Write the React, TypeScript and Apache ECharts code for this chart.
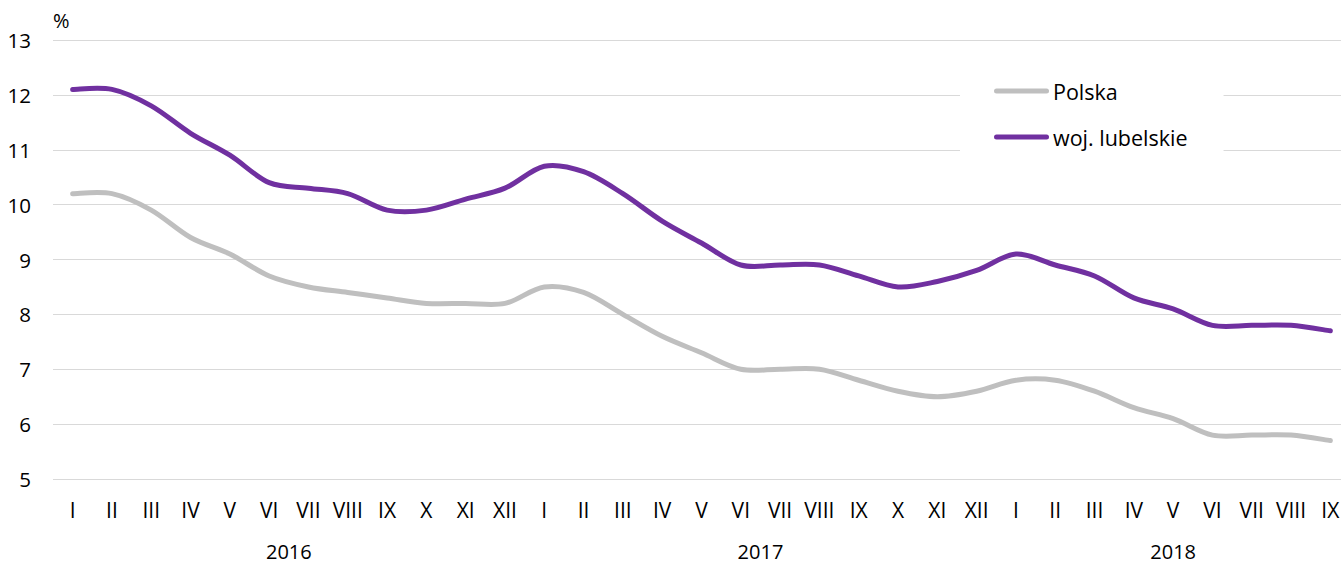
import React, { useEffect, useRef } from "react";
import * as echarts from "echarts";

const months = [
  "I", "II", "III", "IV", "V", "VI", "VII", "VIII", "IX", "X", "XI", "XII",
  "I", "II", "III", "IV", "V", "VI", "VII", "VIII", "IX", "X", "XI", "XII",
  "I", "II", "III", "IV", "V", "VI", "VII", "VIII", "IX",
];
const years = ["2016", "2017", "2018"];
// index pairs between which each year label sits (centre of that year's months)
const yearCentres = [[5, 6], [17, 18], [28, 28]];

const polska = [
  10.2, 10.2, 9.9, 9.4, 9.1, 8.7, 8.5, 8.4, 8.3, 8.2, 8.2, 8.2,
  8.5, 8.4, 8.0, 7.6, 7.3, 7.0, 7.0, 7.0, 6.8, 6.6, 6.5, 6.6,
  6.8, 6.8, 6.6, 6.3, 6.1, 5.8, 5.8, 5.8, 5.7,
];
const lubelskie = [
  12.1, 12.1, 11.8, 11.3, 10.9, 10.4, 10.3, 10.2, 9.9, 9.9, 10.1, 10.3,
  10.7, 10.6, 10.2, 9.7, 9.3, 8.9, 8.9, 8.9, 8.7, 8.5, 8.6, 8.8,
  9.1, 8.9, 8.7, 8.3, 8.1, 7.8, 7.8, 7.8, 7.7,
];

const FONT = "'Open Sans', 'Noto Sans', sans-serif";
const LINE_ICON = "path://M2.5,0 L52.5,0 A2.5,2.5 0 0 1 52.5,5 L2.5,5 A2.5,2.5 0 0 1 2.5,0 Z";

// Smooth line (Catmull-Rom style Bezier, like spreadsheet smoothed lines) drawn through axis coords
function smoothSeries(name: string, values: number[], color: string) {
  return {
    name,
    type: "custom",
    data: values.map((v, i) => [i, v]),
    encode: { x: 0, y: 1 },
    itemStyle: { color },
    z: 3,
    silent: true,
    renderItem: (params: any, api: any) => {
      if (params.dataIndex !== 0) return null;
      const pts = values.map((v, i) => api.coord([i, v]) as number[]);
      const n = pts.length;
      let d = `M${pts[0][0]},${pts[0][1]}`;
      for (let i = 0; i < n - 1; i++) {
        const p0 = pts[Math.max(i - 1, 0)];
        const p1 = pts[i];
        const p2 = pts[i + 1];
        const p3 = pts[Math.min(i + 2, n - 1)];
        const c1x = p1[0] + (p2[0] - p0[0]) / 6;
        const c1y = p1[1] + (p2[1] - p0[1]) / 6;
        const c2x = p2[0] - (p3[0] - p1[0]) / 6;
        const c2y = p2[1] - (p3[1] - p1[1]) / 6;
        d += ` C${c1x},${c1y} ${c2x},${c2y} ${p2[0]},${p2[1]}`;
      }
      return {
        type: "path",
        shape: { pathData: d },
        style: {
          fill: "none",
          stroke: color,
          lineWidth: 5,
          lineCap: "round",
          lineJoin: "round",
        },
      };
    },
  };
}

export default function App() {
  const ref = useRef<HTMLDivElement>(null);
  useEffect(() => {
    if (!ref.current) return;
    const chart = echarts.init(ref.current, null, { renderer: "svg" });
    chart.setOption({
      animation: false,
      backgroundColor: "#ffffff",
      textStyle: { fontFamily: FONT },
      grid: {
        left: 53,
        width: 1297,
        top: 40,
        bottom: 86,
        containLabel: false,
        outerBoundsMode: "none",
      },
      legend: {
        orient: "vertical",
        left: 960,
        top: 67,
        backgroundColor: "#ffffff",
        padding: [13, 36, 15, 34],
        itemWidth: 55,
        itemHeight: 5,
        itemGap: 24,
        textStyle: {
          fontFamily: FONT,
          fontSize: 21.5,
          lineHeight: 21,
          color: "#000000",
          padding: [0, 0, 0, -1],
        },
        data: [
          { name: "Polska", icon: LINE_ICON },
          { name: "woj. lubelskie", icon: LINE_ICON },
        ],
      },
      xAxis: {
        type: "category",
        data: months,
        boundaryGap: true,
        axisLine: { show: false },
        axisTick: { show: false },
        axisLabel: { interval: 0, margin: 20, fontSize: 21, color: "#000000", fontFamily: FONT },
      },
      yAxis: {
        type: "value",
        min: 5,
        max: 13,
        interval: 1,
        name: "%",
        nameLocation: "end",
        nameGap: 10,
        nameTextStyle: { align: "left", fontSize: 20, color: "#000000", fontFamily: FONT, padding: [0, 0, 0, 0] },
        axisLine: { show: false },
        axisTick: { show: false },
        axisLabel: { margin: 22, fontSize: 20.5, color: "#000000", fontFamily: FONT },
        splitLine: { lineStyle: { color: "#d9d9d9", width: 1 } },
      },
      series: [
        smoothSeries("Polska", polska, "#bfbfbf"),
        smoothSeries("woj. lubelskie", lubelskie, "#7030a0"),
      ],
    });
    const graphics = years.map((y, i) => {
      const [a, b] = yearCentres[i];
      const xa = chart.convertToPixel({ xAxisIndex: 0 }, a) as number;
      const xb = chart.convertToPixel({ xAxisIndex: 0 }, b) as number;
      return {
        type: "text",
        x: (xa + xb) / 2,
        y: 551,
        style: {
          text: y,
          fontSize: 20,
          lineHeight: 20,
          fontFamily: FONT,
          fill: "#000000",
          align: "center",
          verticalAlign: "middle",
        },
      };
    });
    chart.setOption({ graphic: graphics });
    return () => chart.dispose();
  }, []);
  return (
    <div
      ref={ref}
      style={{ position: "fixed", left: 0, top: 0, width: 1341, height: 565 }}
    />
  );
}
